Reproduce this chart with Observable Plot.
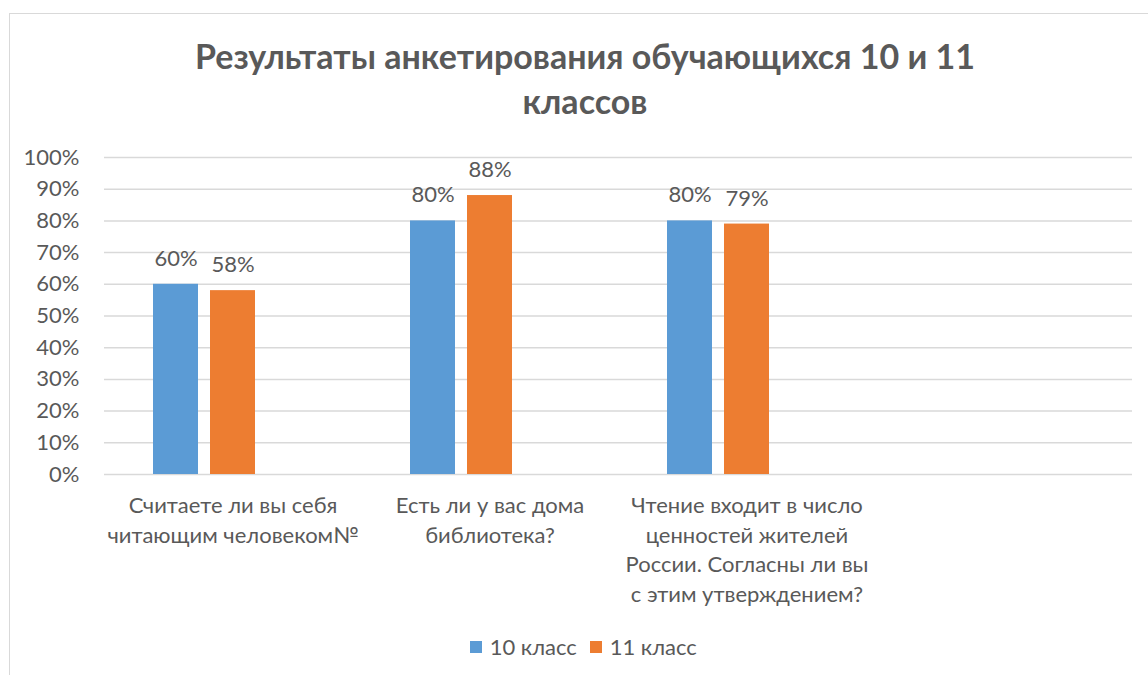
<!DOCTYPE html>
<html>
<head>
<meta charset="utf-8">
<script src="https://cdn.jsdelivr.net/npm/d3@7"></script>
<script src="https://cdn.jsdelivr.net/npm/@observablehq/plot@0.6"></script>
<style>
  html, body { margin: 0; padding: 0; background: #fff; overflow: hidden; }
  body { width: 1148px; height: 675px; position: relative; font-family: Lato, "Noto Sans", sans-serif; }
  #frame { position: absolute; left: 9px; top: 13px; width: 1160px; height: 700px; border: 1px solid #d9d9d9; box-sizing: border-box; }
  #title { position: absolute; left: 0; top: 33px; width: 1170px; text-align: center; font-weight: bold; font-size: 34px; line-height: 45px; color: #595959; }
  #chart { position: absolute; left: 0; top: 140px; }
  #legend { position: absolute; left: 0; top: 630px; width: 1180px; display: flex; justify-content: center; }
  #legend span[class$="-swatch"] { margin-right: 0.6em !important; }
  #legend span[class$="-swatch"] svg { margin-right: 0.35em !important; }
</style>
</head>
<body>
<div id="frame"></div>
<div id="title">Результаты анкетирования обучающихся 10 и 11<br>классов</div>
<div id="chart"></div>
<div id="legend"></div>
<script>
const categories = [
  "Считаете ли вы себя\nчитающим человеком№",
  "Есть ли у вас дома\nбиблиотека?",
  "Чтение входит в число\nценностей жителей\nРоссии. Согласны ли вы\nс этим утверждением?",
  " "
];
const seriesNames = ["10 класс", "11 класс", "—"];
const values10 = [0.60, 0.80, 0.80];
const values11 = [0.58, 0.88, 0.79];
const colors = ["#5b9bd5", "#ed7d31", "#a5a5a5"];
const yTicks = [0, 0.1, 0.2, 0.3, 0.4, 0.5, 0.6, 0.7, 0.8, 0.9, 1.0];

const data = [];
values10.forEach((v, i) => data.push({cat: categories[i], series: seriesNames[0], value: v}));
values11.forEach((v, i) => data.push({cat: categories[i], series: seriesNames[1], value: v}));
const grid = categories.flatMap(c => yTicks.map(t => ({cat: c, value: t})));

const textColor = "#595959";
const font = "Lato, 'Noto Sans', sans-serif";
const chart = Plot.plot({
  width: 1148,
  height: 474,
  marginLeft: 103,
  marginRight: 15,
  marginTop: 17,
  marginBottom: 140,
  style: {fontFamily: font, color: textColor, background: "transparent"},
  fx: {domain: categories, padding: 0},
  x: {domain: seriesNames, paddingInner: 0.2105, paddingOuter: 0.83, axis: null},
  y: {domain: [0, 1]},
  color: {domain: seriesNames, range: colors},
  marks: [
    Plot.ruleY(grid, {fx: "cat", y: "value", stroke: "#d9d9d9", strokeWidth: 1.5}),
    Plot.barY(data, {fx: "cat", x: "series", y: "value", fill: "series"}),
    Plot.text(data, {fx: "cat", x: "series", y: "value", text: d => Math.round(d.value * 100) + "%",
      lineAnchor: "bottom", dy: -18.5, fontSize: 22, fill: textColor}),
    Plot.axisY({ticks: yTicks, tickFormat: d => Math.round(d * 100) + "%", tickSize: 0, tickPadding: 25,
      fontSize: 22, label: null, fill: textColor}),
    Plot.axisFx({anchor: "bottom", tickSize: 0, tickPadding: 18, fontSize: 22, lineHeight: 1.34, label: null, fill: textColor})
  ]
});
document.getElementById("chart").appendChild(chart);

const leg = Plot.legend({color: {domain: seriesNames.slice(0, 2), range: colors.slice(0, 2)},
  swatchSize: 12, style: {fontSize: "22px", fontFamily: font, color: textColor}});
document.getElementById("legend").appendChild(leg);
</script>
</body>
</html>
